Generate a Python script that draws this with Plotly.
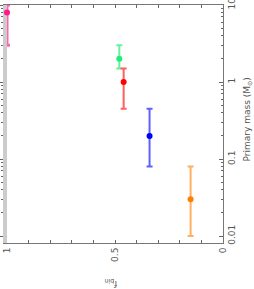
import plotly.graph_objects as go

# data (f_bin vs primary mass)
names = ["pink", "green", "red", "blue", "orange"]
fbin = [1.0, 0.48, 0.46, 0.34, 0.15]
mass = [8.0, 2.0, 1.0, 0.2, 0.03]
mass_hi = [10.0, 3.0, 1.5, 0.45, 0.08]
mass_lo = [3.0, 1.5, 0.45, 0.08, 0.01]
marker_colors = ["#ff1a8c", "#22ee77", "#ff0000", "#0000ff", "#ff8000"]
bar_colors = ["#ff66b0", "#66f0a0", "#ff6060", "#6060ff", "#ffb060"]

x_tickvals = [1.0, 0.5, 0.0]
x_ticktext = ["1", "0.5", "0"]
y_tickvals = [0.01, 0.1, 1, 10]
y_ticktext = ["0.01", "0.1", "1", "10"]

minor_vals = [m * d for d in (0.01, 0.1, 1) for m in range(2, 10)]

fig = go.Figure()
for i in range(len(fbin)):
    fig.add_trace(go.Scatter(
        x=[fbin[i]], y=[mass[i]], mode="markers", name=names[i],
        marker=dict(color=marker_colors[i], size=6),
        error_y=dict(type="data", symmetric=False,
                     array=[mass_hi[i] - mass[i]],
                     arrayminus=[mass[i] - mass_lo[i]],
                     color=bar_colors[i], thickness=2 if i else 3, width=3),
        cliponaxis=False, showlegend=False))

# invisible trace on the left mirror axis
fig.add_trace(go.Scatter(x=[0.5], y=[1], yaxis="y2", mode="markers",
                         marker=dict(opacity=0), showlegend=False, hoverinfo="skip"))

font = dict(family="DejaVu Sans", size=9, color="#555555")
yrange = [-2.09, 1.0005]
fig.update_layout(
    template="none",
    width=254, height=289,
    margin=dict(l=7, r=31, t=5, b=46),
    paper_bgcolor="white", plot_bgcolor="white",
    font=font,
    xaxis=dict(range=[1, 0], tickvals=x_tickvals, ticktext=x_ticktext,
               tickangle=-90, ticks="inside", ticklen=3, tickcolor="#666",
               minor=dict(dtick=0.1, tick0=0, ticks="inside", ticklen=3, tickcolor="#666", showgrid=False),
               showline=True, linecolor="#777", linewidth=1, mirror="ticks",
               showgrid=False, zeroline=False, tickfont=font, automargin=False,
               ticklabeloverflow="allow"),
    yaxis=dict(type="log", range=yrange, side="right",
               tickvals=y_tickvals, ticktext=y_ticktext, tickangle=-90,
               ticks="inside", ticklen=4, tickcolor="#666",
               minor=dict(tickvals=minor_vals, ticks="inside", ticklen=2, tickcolor="#666", showgrid=False),
               showline=True, linecolor="#777", linewidth=1, mirror=False,
               showgrid=False, zeroline=False, tickfont=font, automargin=False,
               ticklabeloverflow="allow"),
    yaxis2=dict(type="log", range=yrange, side="left", overlaying="y",
                tickvals=y_tickvals, showticklabels=False,
                ticks="outside", ticklen=3, tickcolor="#666",
                minor=dict(tickvals=minor_vals, ticks="outside", ticklen=2, tickcolor="#666", showgrid=False),
                showline=True, linecolor="#cccccc", linewidth=4, layer="below traces",
                showgrid=False, zeroline=False, automargin=False),
    annotations=[
        dict(text="Primary mass (M<sub>⊙</sub>)", textangle=-90, xref="paper", yref="paper",
             x=1.112, y=0.52, xanchor="center", yanchor="middle", showarrow=False,
             font=dict(family="DejaVu Sans", size=9, color="#555")),
        dict(text="f<sub>bin</sub>", textangle=180, xref="paper", yref="paper",
             x=0.48, y=-0.17, xanchor="center", yanchor="middle", showarrow=False,
             font=dict(family="DejaVu Sans", size=9, color="#555")),
    ],
)
fig.write_html("out.html", config={"displayModeBar": False},
               post_script="document.body.style.margin='0';document.body.style.padding='0';")
